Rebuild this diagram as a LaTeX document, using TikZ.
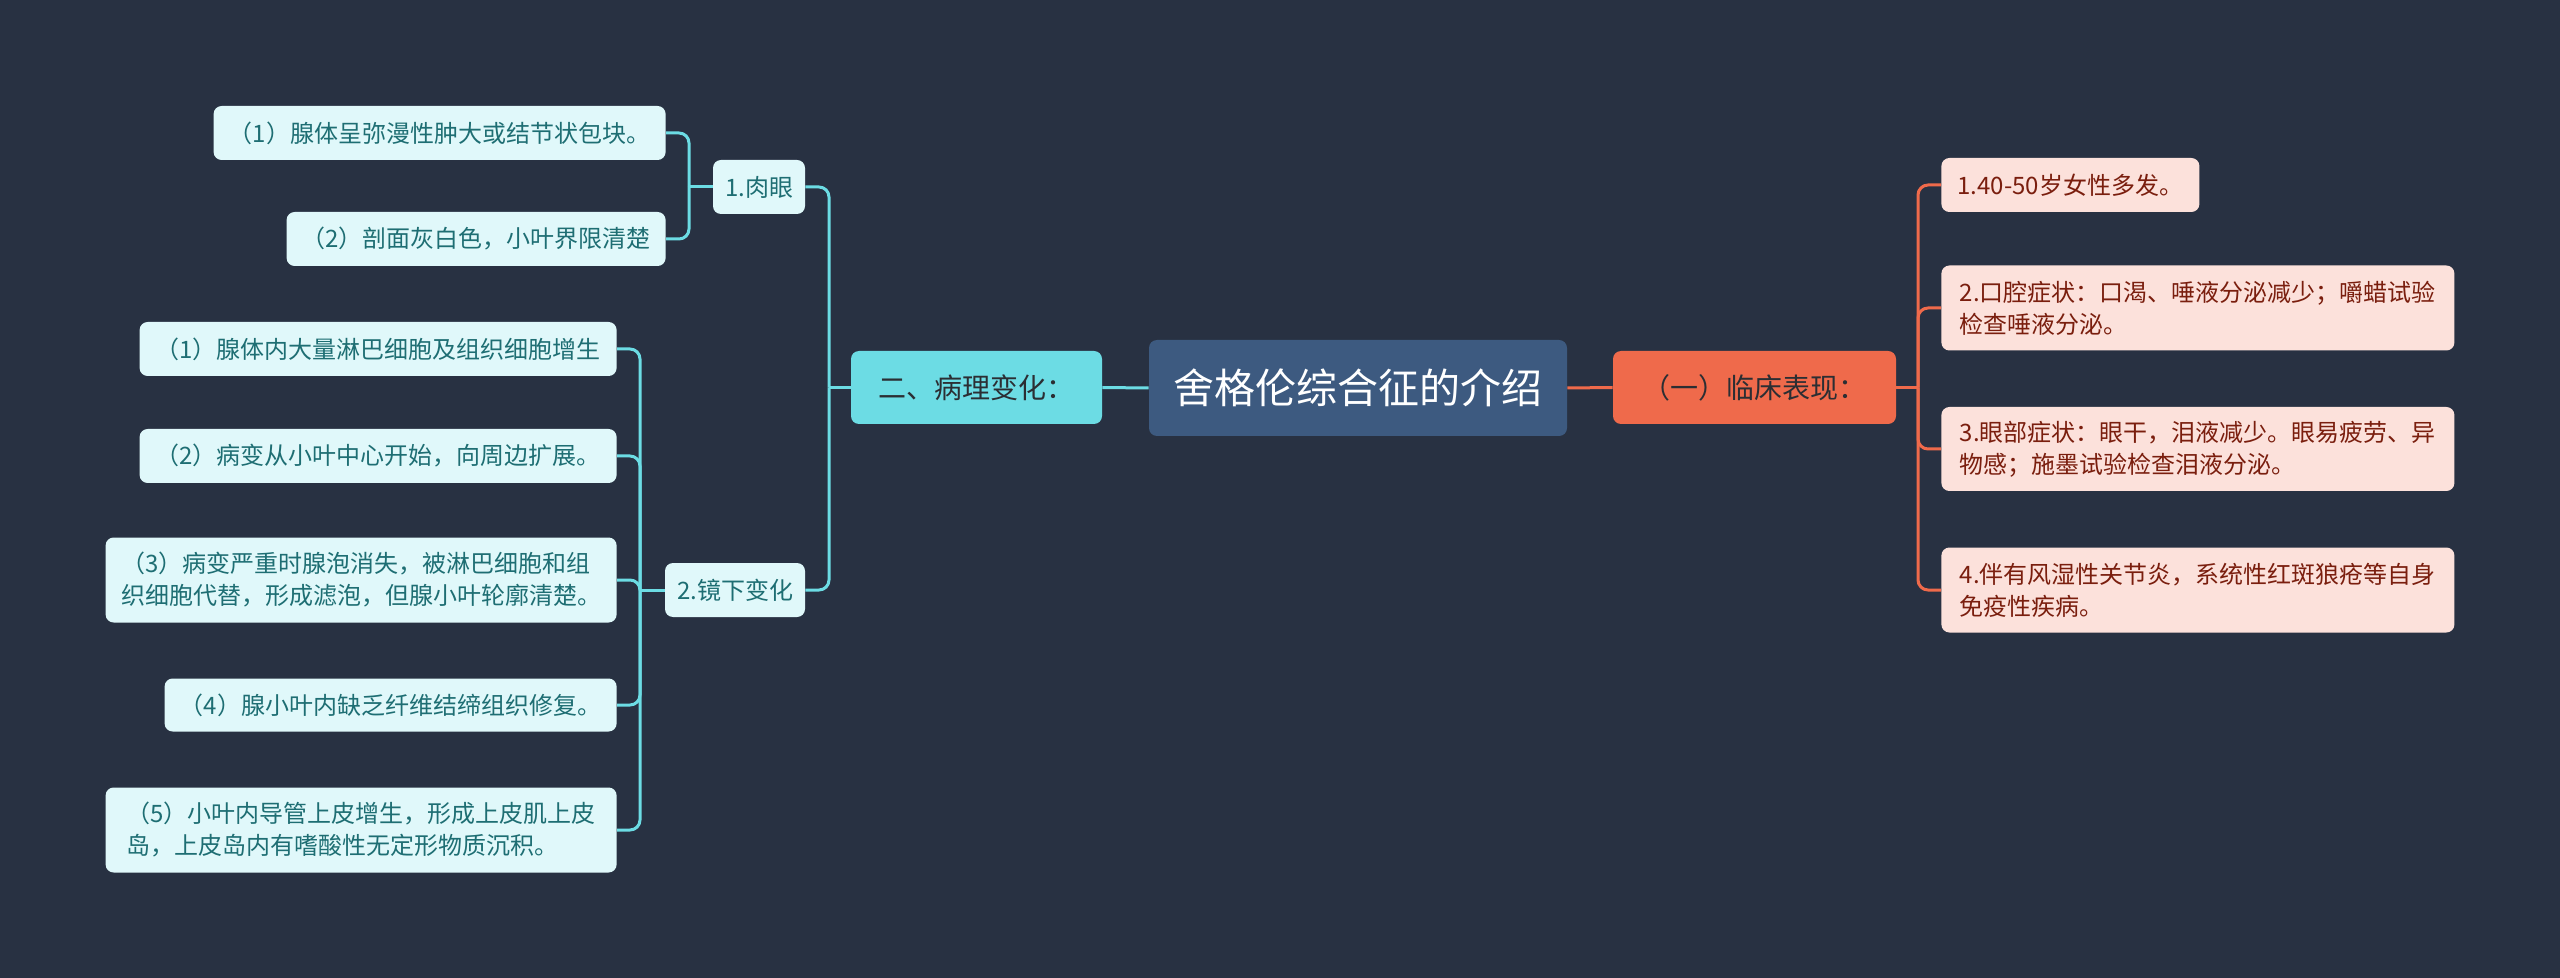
\documentclass[tikz,border=0pt]{standalone}
\usepackage{fontspec}
\newfontfamily\cjk{Noto Sans CJK SC}
\definecolor{bg}{HTML}{283142}
\definecolor{cen}{HTML}{3D5A80}
\definecolor{orng}{HTML}{EF6A4B}
\definecolor{cyn}{HTML}{6CDCE4}
\definecolor{leafLfill}{HTML}{E0F8FA}
\definecolor{leafLtext}{HTML}{1E6E73}
\definecolor{leafRfill}{HTML}{FCE1DB}
\definecolor{leafRtext}{HTML}{7A1E0E}
\definecolor{darktext}{HTML}{2B2E33}
\begin{document}
\begin{tikzpicture}[x=0.5pt,y=-0.5pt,
  box/.style={rounded corners=4pt, inner sep=0pt, align=left, font={\cjk\fontsize{12pt}{16pt}\selectfont}},
  leafL/.style={box, fill=leafLfill, text=leafLtext},
  leafR/.style={box, fill=leafRfill, text=leafRtext},
  lvlone/.style={box, font={\cjk\fontsize{14pt}{18pt}\selectfont}, text=darktext},
  cline/.style={draw=cyn, line width=1.5pt},
  oline/.style={draw=orng, line width=1.5pt},
  rc/.style={rounded corners=5pt}]
\fill[bg] (0,0) rectangle (2560,978);
\useasboundingbox (0,0) rectangle (2560,978);

% center
\node[box, fill=cen, text=white, minimum width=209pt, minimum height=48pt,
  font={\cjk\fontsize{20.5pt}{24pt}\selectfont}] (c) at (1358,388) {舍格伦综合征的介绍};

% level one
\node[lvlone, fill=orng, minimum width=141.5pt, minimum height=36.5pt] (R) at (1754.5,387.5) {（一）临床表现：};
\node[lvlone, fill=cyn, minimum width=125.5pt, minimum height=36.5pt] (L) at (976.5,387.5) {二、病理变化：};

% mid level left
\node[leafL, minimum width=46pt, minimum height=27pt] (m1) at (759,187) {1.肉眼};
\node[leafL, minimum width=70pt, minimum height=27pt] (m2) at (735,590) {2.镜下变化};

% leaves under 1.肉眼
\node[leafL, anchor=east, minimum width=226pt, minimum height=27pt] (a1) at (666,133) {（1）腺体呈弥漫性肿大或结节状包块。};
\node[leafL, anchor=east, minimum width=189.5pt, minimum height=27pt] (a2) at (666,239) {（2）剖面灰白色，小叶界限清楚};

% leaves under 2.镜下变化
\node[leafL, anchor=east, minimum width=238.5pt, minimum height=27pt] (b1) at (617,349) {（1）腺体内大量淋巴细胞及组织细胞增生};
\node[leafL, anchor=east, minimum width=238.5pt, minimum height=27pt] (b2) at (617,456) {（2）病变从小叶中心开始，向周边扩展。};
\node[leafL, anchor=east, minimum width=255.5pt, minimum height=42.5pt] (b3) at (617,580) {（3）病变严重时腺泡消失，被淋巴细胞和组\\织细胞代替，形成滤泡，但腺小叶轮廓清楚。};
\node[leafL, anchor=east, minimum width=226pt, minimum height=26.5pt] (b4) at (617,705) {（4）腺小叶内缺乏纤维结缔组织修复。};
\node[leafL, anchor=east, minimum width=255.5pt, minimum height=42.5pt] (b5) at (617,830) {（5）小叶内导管上皮增生，形成上皮肌上皮\\岛，上皮岛内有嗜酸性无定形物质沉积。};

% right leaves
\node[leafR, anchor=west, minimum width=129pt, minimum height=27pt] (r1) at (1941,185) {1.40-50岁女性多发。};
\node[leafR, anchor=west, minimum width=256.5pt, minimum height=42.5pt] (r2) at (1941,308) {2.口腔症状：口渴、唾液分泌减少；嚼蜡试验\\检查唾液分泌。};
\node[leafR, anchor=west, minimum width=256.5pt, minimum height=42pt] (r3) at (1941,449) {3.眼部症状：眼干，泪液减少。眼易疲劳、异\\物感；施墨试验检查泪液分泌。};
\node[leafR, anchor=west, minimum width=256.5pt, minimum height=42.5pt] (r4) at (1941,590) {4.伴有风湿性关节炎，系统性红斑狼疮等自身\\免疫性疾病。};

% connectors centre
\draw[oline] (c.east) -- (R.west);
\draw[cline] (c.west) -- (L.east);

% right branch
\coordinate (sR) at (1918,387.5);
\draw[oline] (R.east) -- (sR);
\foreach \n in {r1,r2,r3,r4} \draw[oline,rc] (sR) |- (\n.west);

% left branch
\coordinate (sL) at (829,387.5);
\draw[cline] (L.west) -- (sL);
\foreach \n in {m1,m2} \draw[cline,rc] (sL) |- (\n.east);

\coordinate (s1) at (689,187);
\draw[cline] (m1.west) -- (s1);
\foreach \n in {a1,a2} \draw[cline,rc] (s1) |- (\n.east);

\coordinate (s2) at (640,590);
\draw[cline] (m2.west) -- (s2);
\foreach \n in {b1,b2,b3,b4,b5} \draw[cline,rc] (s2) |- (\n.east);
\end{tikzpicture}
\end{document}
